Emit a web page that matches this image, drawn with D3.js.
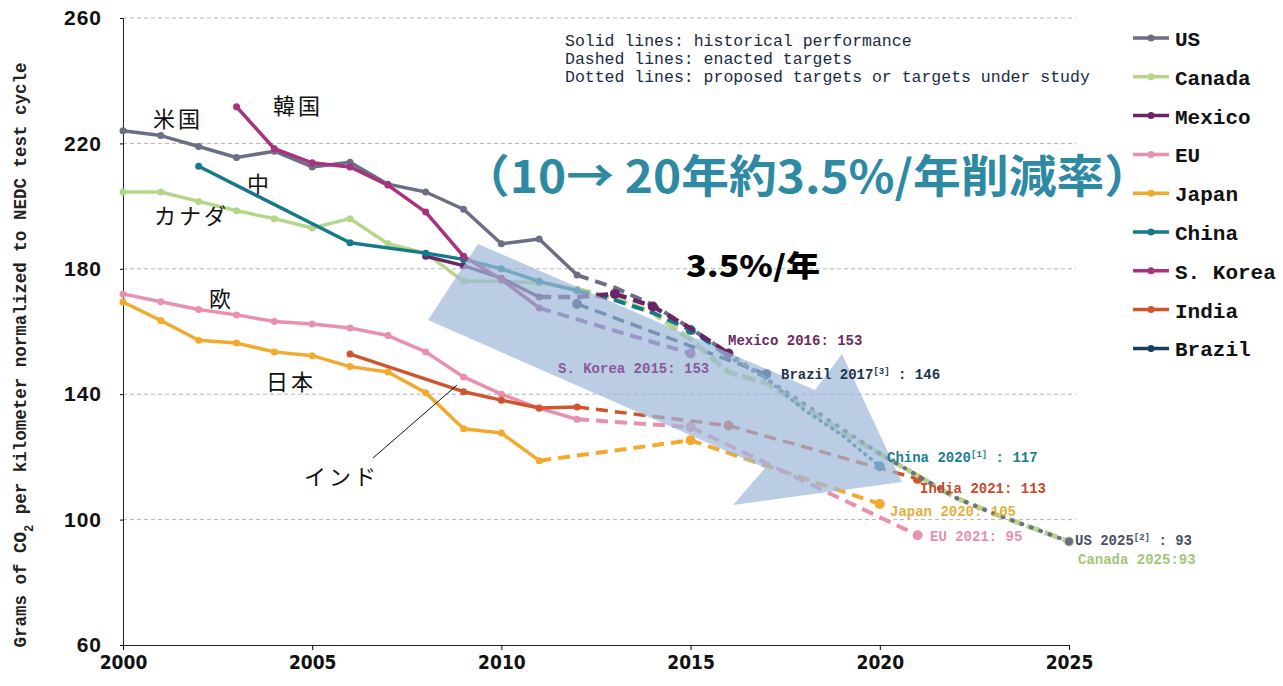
<!DOCTYPE html>
<html>
<head>
<meta charset="utf-8">
<script src="https://cdn.jsdelivr.net/npm/d3@7"></script>
<style>
  body { margin: 0; background: #fff; }
  svg { display: block; }
</style>
</head>
<body>
<div id="chart"></div>
<script>
// historical data (solid lines)
const histYears = [2000, 2001, 2002, 2003, 2004, 2005, 2006, 2007, 2008, 2009, 2010, 2011, 2012];
const usHist = [224, 222.5, 219, 215.5, 217.5, 212.5, 214, 207, 204.5, 199, 188, 189.5, 178];
const canadaHist = [204.5, 204.5, 201.5, 198.5, 196, 193, 196, 188, 185, 176, 176, 175.5, 173.5];
const euHist = [172, 169.5, 167, 165.3, 163.2, 162.4, 161.1, 158.7, 153.5, 145.5, 140, 135.5, 132];
const japanYears = [2000, 2001, 2002, 2003, 2004, 2005, 2006, 2007, 2008, 2009, 2010, 2011];
const japanHist = [169.4, 163.5, 157.2, 156.3, 153.5, 152.3, 148.8, 147.1, 140.5, 129, 127.6, 118.8];
const chinaYears = [2002, 2006, 2008, 2009, 2010, 2011, 2012];
const chinaHist = [212.7, 188.3, 185, 183, 180, 176, 173];
const koreaYears = [2003, 2004, 2005, 2006, 2007, 2008, 2009, 2010, 2011];
const koreaHist = [231.7, 218.3, 213.8, 212.5, 206.7, 198.1, 184, 176.6, 167.5];
const mexicoYears = [2008, 2009, 2010, 2011];
const mexicoHist = [184, 181, 177, 171];
const indiaYears = [2006, 2009, 2010, 2011, 2012];
const indiaHist = [152.8, 140.8, 138.1, 135.6, 135.9];

// targets (dashed / dotted lines)
const usDashYears = [2012, 2013, 2014, 2015, 2016];
const usDash = [178, 174, 168.5, 161, 153];
const usDotYears = [2016, 2017, 2018, 2019, 2020, 2021, 2022, 2023, 2024, 2025];
const usDot = [153, 145, 137, 129, 121, 114, 107, 102, 97.5, 93];
const canadaTargetYears = [2012, 2013, 2014, 2015, 2016, 2017, 2018, 2019, 2020, 2021, 2022, 2023, 2024, 2025];
const canadaTarget = [173.5, 170.5, 166, 157.5, 147, 143.5, 136, 128, 121, 114, 107, 102, 97.5, 93];
const mexicoTargetYears = [2011, 2012, 2013, 2014, 2015, 2016];
const mexicoTarget = [171, 171, 172, 168, 161, 153];
const koreaTargetYears = [2011, 2015];
const koreaTarget = [167.5, 153];
const chinaDashYears = [2012, 2013, 2014, 2015, 2016];
const chinaDash = [173, 170, 166, 160.5, 152];
const chinaDotYears = [2016, 2017, 2018, 2019, 2020];
const chinaDot = [152, 145, 135, 127, 117];
const brazilTargetYears = [2012, 2017];
const brazilTarget = [168.8, 146.4];
const indiaTargetYears = [2012, 2016, 2021];
const indiaTarget = [135.9, 130, 113];
const euTargetYears = [2012, 2015, 2021];
const euTarget = [132, 129.5, 95];
const japanTargetYears = [2011, 2015, 2020];
const japanTarget = [118.8, 125.3, 105];

const yTicks = [60, 100, 140, 180, 220, 260];
const xTicks = [2000, 2005, 2010, 2015, 2020, 2025];

const legendNames = ["US", "Canada", "Mexico", "EU", "Japan", "China", "S. Korea", "India", "Brazil"];
const legendColors = ["#6b6e84", "#b5d68a", "#6b2466", "#e891ae", "#f2aa2e", "#16798a", "#a8327e", "#d2542e", "#193d5e"];
const color = d3.scaleOrdinal().domain(legendNames).range(legendColors);

const zip = (ys, vs) => ys.map((yr, i) => ({ year: yr, value: vs[i] }));

const width = 1283, height = 686;
const svg = d3.select("#chart").append("svg")
    .attr("width", width)
    .attr("height", height)
    .style("font-family", "'Liberation Mono', 'DejaVu Sans Mono', monospace");

const x = d3.scaleLinear().domain([2000, 2025]).range([123, 1069]);
const y = d3.scaleLinear().domain([60, 260]).range([645, 18]);

// grid lines
svg.selectAll(".grid")
    .data(yTicks.filter(t => t > 60))
    .enter().append("line")
    .attr("x1", x(2000)).attr("x2", 1076)
    .attr("y1", d => y(d)).attr("y2", d => y(d))
    .attr("stroke", "#b4b4b4")
    .attr("stroke-width", 1)
    .attr("stroke-dasharray", "4,3");

// axes
const yAxis = svg.append("g")
    .attr("transform", `translate(${x(2000)},0)`)
    .call(d3.axisLeft(y).tickValues(yTicks).tickSize(3).tickPadding(18));
yAxis.select(".domain").attr("stroke", "#222");
yAxis.selectAll("text")
    .style("font-family", "'Liberation Sans', Arial, sans-serif")
    .style("font-weight", "bold")
    .style("font-size", "21px")
    .style("letter-spacing", "1px")
    .attr("fill", "#111");

const xAxis = svg.append("g")
    .attr("transform", `translate(0,${y(60)})`)
    .call(d3.axisBottom(x).tickValues(xTicks).tickFormat(d3.format("d")).tickSize(5).tickPadding(6));
xAxis.select(".domain").attr("stroke", "#222");
xAxis.selectAll("text")
    .style("font-family", "'Liberation Sans Narrow', 'DejaVu Sans Condensed', sans-serif")
    .style("font-weight", "bold")
    .style("font-size", "19px")
    .attr("fill", "#111");

// y axis title
const yTitle = svg.append("text")
    .attr("transform", `translate(26,355) rotate(-90)`)
    .attr("text-anchor", "middle")
    .style("font-weight", "bold")
    .style("font-size", "17.5px")
    .attr("fill", "#222");
yTitle.append("tspan").text("Grams of CO");
yTitle.append("tspan").text("2").attr("baseline-shift", "sub").style("font-size", "12px");
yTitle.append("tspan").text(" per kilometer normalized to NEDC test cycle");

const line = d3.line().x(d => x(d.year)).y(d => y(d.value));

function drawLine(data, stroke, opts) {
    const o = Object.assign({ width: 3.5, dash: null, dots: false, r: 3.5, ends: [] }, opts);
    const p = svg.append("path")
        .datum(data)
        .attr("d", line)
        .attr("fill", "none")
        .attr("stroke", stroke)
        .attr("stroke-width", o.width)
        .attr("stroke-linejoin", "round")
        .attr("stroke-linecap", o.cap || "butt");
    if (o.dash) p.attr("stroke-dasharray", o.dash);
    const pts = o.dots ? data : data.filter(d => o.ends.includes(d.year));
    svg.selectAll(null)
        .data(pts)
        .enter().append("circle")
        .attr("cx", d => x(d.year))
        .attr("cy", d => y(d.value))
        .attr("r", o.r)
        .attr("fill", stroke);
}

const dash = "12,7";
const dot = "1,6";

// target lines first
drawLine(zip(japanTargetYears, japanTarget), color("Japan"), { dash: dash, width: 4, ends: [2015, 2020], r: 5 });
drawLine(zip(euTargetYears, euTarget), color("EU"), { dash: dash, width: 4, ends: [2015, 2021], r: 5 });
drawLine(zip(indiaTargetYears, indiaTarget), color("India"), { dash: dash, width: 3.5, ends: [2016, 2021], r: 5 });
drawLine(zip(koreaTargetYears, koreaTarget), "#93479a", { dash: dash, width: 4, ends: [2015], r: 5 });
drawLine(zip(brazilTargetYears, brazilTarget), color("Brazil"), { dash: dash, width: 3.5, ends: [2012, 2017], r: 5 });
drawLine(zip(canadaTargetYears, canadaTarget), color("Canada"), { dash: "14,5", width: 5, ends: [2025], r: 5 });
drawLine(zip(chinaDashYears, chinaDash), color("China"), { dash: dash, width: 4, ends: [2015], r: 5 });
drawLine(zip(chinaDotYears, chinaDot), color("China"), { dash: dot, width: 3.5, cap: "round", ends: [2020], r: 5 });
drawLine(zip(usDashYears, usDash), color("US"), { dash: dash, width: 4 });
drawLine(zip(usDotYears, usDot), color("US"), { dash: "1,9", width: 4, cap: "round", ends: [2025], r: 4 });
drawLine(zip(mexicoTargetYears, mexicoTarget), color("Mexico"), { dash: dash, width: 4.5, ends: [2013, 2014, 2016], r: 5 });

// historical lines
drawLine(zip(histYears, canadaHist), color("Canada"), { dots: true });
drawLine(zip(japanYears, japanHist), color("Japan"), { dots: true });
drawLine(zip(histYears, euHist), color("EU"), { dots: true });
drawLine(zip(indiaYears, indiaHist), color("India"), { dots: true });
drawLine(zip(histYears, usHist), color("US"), { dots: true });
drawLine(zip(mexicoYears, mexicoHist), color("Mexico"), { dots: true });
drawLine(zip(chinaYears, chinaHist), color("China"), { dots: true });
drawLine(zip(koreaYears, koreaHist), color("S. Korea"), { dots: true });

// big translucent arrow
const arrowPts = [[478, 244], [815, 390], [842, 354], [902, 482], [733, 505], [765, 468], [428, 320]];
svg.append("polygon")
    .attr("points", arrowPts.map(p => p.join(",")).join(" "))
    .attr("fill", "#9db8da")
    .attr("fill-opacity", 0.7);

// leader line for India
svg.append("line")
    .attr("x1", 373).attr("y1", 458).attr("x2", 457).attr("y2", 385)
    .attr("stroke", "#111").attr("stroke-width", 1);

// Japanese annotations
const jp = "'Noto Sans CJK JP', 'Noto Sans', sans-serif";
const notes = [
    { t: "米国", x: 153, y: 127 },
    { t: "韓国", x: 273, y: 114 },
    { t: "中", x: 247, y: 192 },
    { t: "カナダ", x: 154, y: 224 },
    { t: "欧", x: 209, y: 307 },
    { t: "日本", x: 266, y: 390 },
    { t: "インド", x: 304, y: 485 }
];
svg.selectAll(".note")
    .data(notes)
    .enter().append("text")
    .attr("x", d => d.x).attr("y", d => d.y)
    .style("font-family", jp)
    .style("font-size", "22px")
    .style("letter-spacing", "3px")
    .attr("fill", "#111")
    .text(d => d.t);

// target labels
const labels = [
    { t: "Mexico 2016: 153", sup: null, x: 728, y: 345, c: "#6b2a5e" },
    { t: "S. Korea 2015: 153", sup: null, x: 558, y: 373, c: "#8a5a98" },
    { t: "Brazil 2017", sup: "[3]", rest: " : 146", x: 781, y: 379, c: "#1d3550" },
    { t: "China 2020", sup: "[1]", rest: " : 117", x: 887, y: 462, c: "#1e7f8e" },
    { t: "India 2021: 113", sup: null, x: 920, y: 493, c: "#c8482a" },
    { t: "Japan 2020: 105", sup: null, x: 890, y: 516, c: "#e3b040" },
    { t: "EU 2021: 95", sup: null, x: 930, y: 541, c: "#e690b0" },
    { t: "US 2025", sup: "[2]", rest: " : 93", x: 1075, y: 545, c: "#4a4e66" },
    { t: "Canada 2025:93", sup: null, x: 1078, y: 564, c: "#a6c57a" }
];
labels.forEach(l => {
    const tx = svg.append("text")
        .attr("x", l.x).attr("y", l.y)
        .style("font-size", "14px")
        .style("font-weight", "bold")
        .attr("fill", l.c);
    tx.append("tspan").text(l.t);
    if (l.sup) {
        tx.append("tspan").text(l.sup).attr("dy", -5).style("font-size", "9px");
        tx.append("tspan").text(l.rest).attr("dy", 5);
    }
});

// line style note
const styleNote = ["Solid lines: historical performance", "Dashed lines: enacted targets", "Dotted lines: proposed targets or targets under study"];
svg.selectAll(".stylenote")
    .data(styleNote)
    .enter().append("text")
    .attr("x", 565)
    .attr("y", (d, i) => 46 + i * 18)
    .style("font-size", "16.5px")
    .attr("fill", "#1a2a44")
    .text(d => d);

// legend
const legend = svg.selectAll(".legend")
    .data(legendNames)
    .enter().append("g")
    .attr("transform", (d, i) => `translate(1133,${38 + i * 38.8})`);
legend.append("line")
    .attr("x1", 0).attr("x2", 36)
    .attr("stroke", d => color(d))
    .attr("stroke-width", 3.5);
legend.append("circle")
    .attr("cx", 18).attr("r", 3.5)
    .attr("fill", d => color(d));
legend.append("text")
    .attr("x", 42).attr("y", 8)
    .style("font-size", "21px")
    .style("font-weight", "bold")
    .attr("fill", "#111")
    .text(d => d);

// headline annotations
svg.append("text")
    .attr("x", 462).attr("y", 193)
    .attr("textLength", 690)
    .attr("lengthAdjust", "spacingAndGlyphs")
    .style("font-family", jp)
    .style("font-size", "45px")
    .style("font-weight", "bold")
    .attr("fill", "#2e8aa3")
    .text("（10→ 20年約3.5%/年削減率）");

svg.append("text")
    .attr("x", 686).attr("y", 277)
    .attr("textLength", 134)
    .attr("lengthAdjust", "spacingAndGlyphs")
    .style("font-family", jp)
    .style("font-size", "29px")
    .style("font-weight", "900")
    .attr("fill", "#000")
    .text("3.5%/年");
</script>
</body>
</html>
